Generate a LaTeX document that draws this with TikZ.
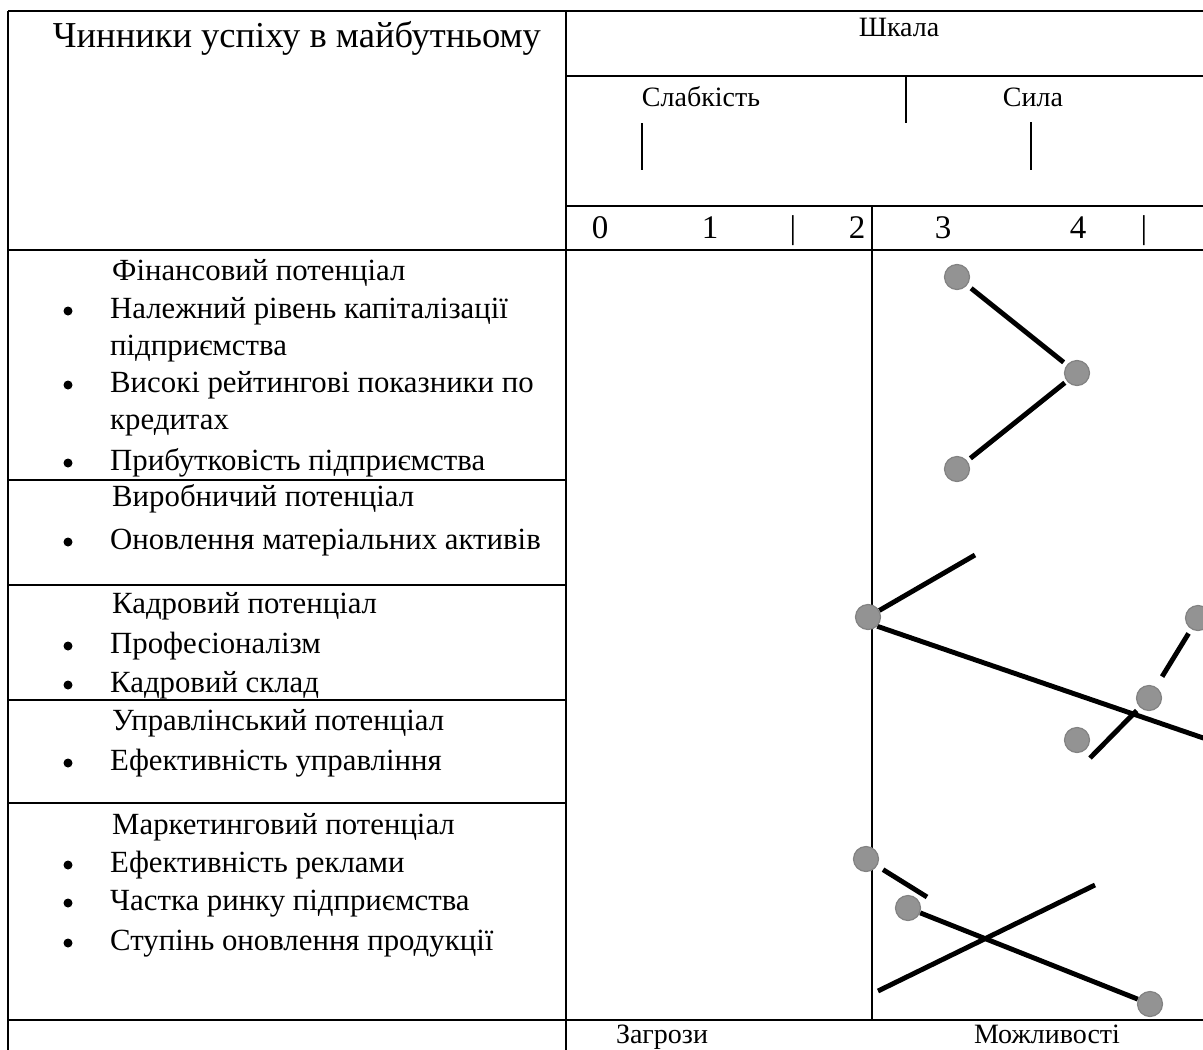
\documentclass[tikz,border=0pt]{standalone}
\usepackage{fontspec}
\setmainfont{Liberation Serif}
\usetikzlibrary{backgrounds}
\definecolor{dotfill}{HTML}{939393}
\definecolor{dotedge}{HTML}{828282}
\begin{document}
\begin{tikzpicture}[x=1pt,y=-1pt,
 tline/.style={line width=2.8pt},
 tickline/.style={line width=1.8pt},
 seg/.style={line width=4.9pt},
 dotn/.style={circle,fill=dotfill,draw=dotedge,line width=1.2pt,minimum size=25pt,inner sep=0pt},
 bul/.style={circle,fill=black,minimum size=9pt,inner sep=0pt},
 txt/.style={font=\fontsize{30.8}{36}\selectfont,inner sep=0pt,anchor=mid west},
 hdr/.style={font=\fontsize{28}{32}\selectfont,inner sep=0pt,anchor=mid},
 num/.style={font=\fontsize{33}{38}\selectfont,inner sep=0pt,anchor=mid},
 ttl/.style={font=\fontsize{36.5}{42}\selectfont,inner sep=0pt,anchor=mid}]
\useasboundingbox (0,0) rectangle (1203,1050);
% table
\begin{pgfonlayer}{background}
\draw[tline] (8,11) -- (1212,11);
\draw[tline] (8,11) -- (8,1056);
\draw[tline] (566,11) -- (566,1056);
\draw[tline] (566,76) -- (1212,76);
\draw[tline] (566,206) -- (1212,206);
\draw[tline] (8,250) -- (1212,250);
\draw[tline] (872,206) -- (872,1020);
\draw[tline] (8,480) -- (566,480);
\draw[tline] (8,585) -- (566,585);
\draw[tline] (8,700) -- (566,700);
\draw[tline] (8,803) -- (566,803);
\draw[tline] (8,1020) -- (1212,1020);
\draw[tickline] (642,123) -- (642,170);
\draw[tickline] (906,76) -- (906,123);
\draw[tickline] (1031,122) -- (1031,170);
\end{pgfonlayer}
% header texts
\node[ttl] (title) at (297,45) {Чинники успіху в майбутньому};
\node[hdr] (scale) at (899,34) {Шкала};
\node[hdr] (weak) at (701,104) {Слабкість};
\node[hdr] (strong) at (1033,104) {Сила};
\node[num] (n0) at (600,236) {0};
\node[num] (n1) at (710,236) {1};
\node[num] (nb1) at (793,236) {|};
\node[num] (n2) at (857,236) {2};
\node[num] (n3) at (943,236) {3};
\node[num] (n4) at (1078,236) {4};
\node[num] (nb2) at (1144,236) {|};
\node[hdr] (threat) at (662,1041) {Загрози};
\node[hdr] (opp) at (1047,1041) {Можливості};
% left column
\node[txt] (h1) at (112,278) {Фінансовий потенціал};
\node[txt] (t11) at (110,316) {Належний рівень капіталізації};
\node[txt] (t12) at (110,353) {підприємства};
\node[txt] (t13) at (110,390) {Високі рейтингові показники по};
\node[txt] (t14) at (110,427) {кредитах};
\node[txt] (t15) at (110,468) {Прибутковість підприємства};
\node[txt] (h2) at (112,504) {Виробничий потенціал};
\node[txt] (t21) at (110,547) {Оновлення матеріальних активів};
\node[txt] (h3) at (112,611) {Кадровий потенціал};
\node[txt] (t31) at (110,651) {Професіоналізм};
\node[txt] (t32) at (110,690) {Кадровий склад};
\node[txt] (h4) at (112,728) {Управлінський потенціал};
\node[txt] (t41) at (110,768) {Ефективність управління};
\node[txt] (h5) at (112,832) {Маркетинговий потенціал};
\node[txt] (t51) at (110,870) {Ефективність реклами};
\node[txt] (t52) at (110,908) {Частка ринку підприємства};
\node[txt] (t53) at (110,948) {Ступінь оновлення продукції};
\foreach \yy/\nm in {311/b1,385/b2,463/b3,542/b4,646/b5,685/b6,763/b7,865/b8,903/b9,943/b10}
  \node[bul] (\nm) at (68,\yy) {};
% dots
\node[dotn] (d1) at (957,277) {};
\node[dotn] (d2) at (1077,373) {};
\node[dotn] (d3) at (957,469) {};
\node[dotn] (d4) at (868,617) {};
\node[dotn] (d5) at (1198,618) {};
\node[dotn] (d6) at (1149,698) {};
\node[dotn] (d7) at (1077,740) {};
\node[dotn] (d8) at (866,859) {};
\node[dotn] (d9) at (908,908) {};
\node[dotn] (d10) at (1150,1004) {};
\coordinate (e1) at (975,555);
\coordinate (e2) at (1215,742);
\coordinate (e3) at (1090,758);
\coordinate (e4) at (927,897);
\coordinate (e5) at (878,991);
\coordinate (e6) at (1095,885);
\begin{pgfonlayer}{background}
\draw[seg,shorten <=5pt,shorten >=4pt] (d1) -- (d2);
\draw[seg,shorten <=2.5pt,shorten >=4pt] (d2) -- (d3);
\draw[seg] (d4) -- (e1);
\draw[seg] (d4.-45) -- (e2);
\draw[seg,shorten <=5pt,shorten >=12pt] (d5) -- (d6);
\draw[seg,shorten <=4.5pt] (d6) -- (e3);
\draw[seg,shorten <=7pt] (d8) -- (e4);
\draw[seg] (d9) -- (d10);
\draw[seg] (e5) -- (e6);
\end{pgfonlayer}
\end{tikzpicture}
\end{document}
